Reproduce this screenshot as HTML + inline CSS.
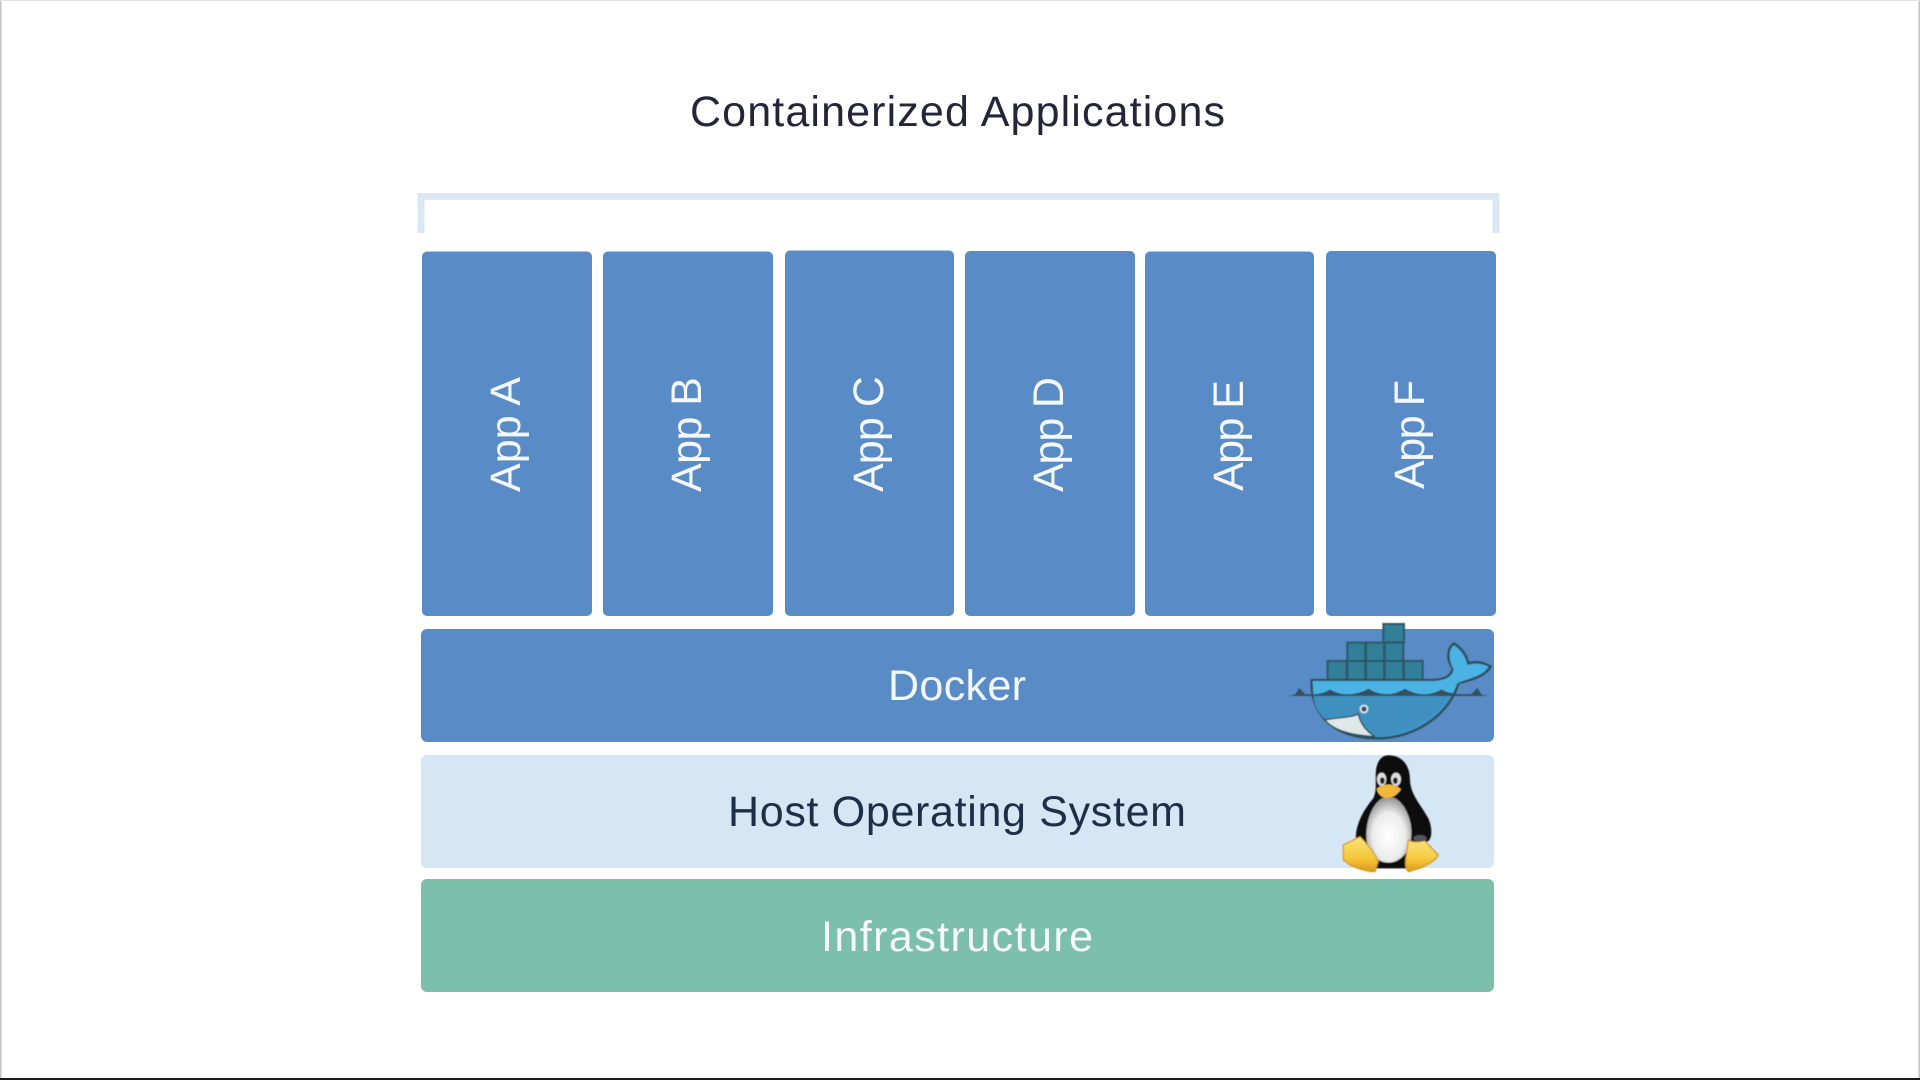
<!DOCTYPE html>
<html lang="en">
<head>
<meta charset="utf-8">
<title>Containerized Applications</title>
<style>
html,body{margin:0;padding:0;background:#fff;width:1920px;height:1080px;overflow:hidden}
svg{display:block}
text{font-family:"Liberation Sans",sans-serif;font-size:43px}
.w{fill:#f4f8fb}
</style>
</head>
<body>
<svg width="1920" height="1080" viewBox="0 0 1920 1080" xmlns="http://www.w3.org/2000/svg">
<defs>
<filter id="s3" x="-10%" y="-10%" width="120%" height="120%"><feGaussianBlur stdDeviation="1.6"/></filter>
<linearGradient id="foot" x1="0" y1="0" x2="0" y2="1"><stop offset="0" stop-color="#fbe27a"/><stop offset="0.6" stop-color="#f6c83a"/><stop offset="1" stop-color="#dd9a1c"/></linearGradient>
<radialGradient id="belly" cx="0.5" cy="0.6" r="0.6"><stop offset="0" stop-color="#ffffff"/><stop offset="0.6" stop-color="#ececec"/><stop offset="1" stop-color="#8f8f8f"/></radialGradient>
</defs>
<rect width="1920" height="1080" fill="#fff"/>
<rect x="0" y="0" width="1.5" height="1080" fill="#c4c4c4"/>
<rect x="1918.5" y="0" width="1.5" height="1080" fill="#c4c4c4"/>
<rect x="0" y="0" width="1920" height="1" fill="#e2e2e2"/>
<rect x="0" y="1078" width="1920" height="2" fill="#1c1c1c"/>

<text x="690" y="126" textLength="535" lengthAdjust="spacing" fill="#23263a">Containerized Applications</text>

<path d="M421 233V196.500H1496V233" fill="none" stroke="#dbe8f3" stroke-width="7"/>

<g fill="#598cc7">
<rect x="422" y="251.500" width="170" height="364.500" rx="5"/>
<rect x="603" y="251.500" width="170" height="364.500" rx="5"/>
<rect x="785" y="250.500" width="169" height="365.500" rx="5"/>
<rect x="965" y="251" width="170" height="365" rx="5"/>
<rect x="1145" y="251.500" width="169" height="364.500" rx="5"/>
<rect x="1326" y="251" width="170" height="365" rx="5"/>
<rect x="421" y="629" width="1073" height="113" rx="6"/>
</g>
<rect x="421" y="755" width="1073" height="113" rx="6" fill="#d5e6f5"/>
<rect x="421" y="879" width="1073" height="113" rx="6" fill="#7cbfaa"/>

<text class="w" transform="translate(520,492) rotate(-90)" textLength="115" lengthAdjust="spacing">App A</text>
<text class="w" transform="translate(701,492) rotate(-90)" textLength="115" lengthAdjust="spacing">App B</text>
<text class="w" transform="translate(883,492) rotate(-90)" textLength="116" lengthAdjust="spacing">App C</text>
<text class="w" transform="translate(1063,492) rotate(-90)" textLength="115" lengthAdjust="spacing">App D</text>
<text class="w" transform="translate(1243,491) rotate(-90)" textLength="111" lengthAdjust="spacing">App E</text>
<text class="w" transform="translate(1424,489) rotate(-90)" textLength="109" lengthAdjust="spacing">App F</text>

<text class="w" x="888" y="700" textLength="138" lengthAdjust="spacing">Docker</text>
<text x="728" y="826" textLength="458" lengthAdjust="spacing" fill="#1b2f46">Host Operating System</text>
<text class="w" x="821" y="951" textLength="272" lengthAdjust="spacing">Infrastructure</text>

<!-- Docker whale -->
<g transform="translate(1260,600) scale(0.33333)" filter="url(#s3)">
<g fill="#327f99" stroke="#2f5765" stroke-width="6">
<rect x="370" y="72" width="62" height="55"/>
<rect x="262" y="128" width="54" height="55"/><rect x="318" y="128" width="54" height="55"/><rect x="374" y="128" width="56" height="55"/>
<rect x="203" y="183" width="57" height="57"/><rect x="262" y="183" width="54" height="57"/><rect x="318" y="183" width="54" height="57"/><rect x="374" y="183" width="56" height="57"/><rect x="432" y="183" width="56" height="57"/>
</g>
<path d="M155 240L520 240C560 238 575 225 578 205C560 180 560 145 582 130C605 145 620 165 625 190C650 182 675 190 692 200C670 235 625 240 595 250C570 340 470 415 350 415C230 415 150 350 155 240Z" fill="#3d94c6" stroke="#2f4d58" stroke-width="7" stroke-linejoin="round"/>
<path d="M158 243L520 243C560 241 578 228 581 208C565 180 565 150 582 137C600 150 615 170 622 196C650 188 670 192 685 200C665 230 625 235 592 250C585 268 580 275 575 285L160 285Z" fill="#4cb2e4"/>
<path d="M85 288L105 284L118 264L135 282C160 284 185 284 210 268C240 288 290 288 325 266C360 288 400 288 435 266C470 288 510 288 545 268C570 284 610 284 635 282L652 264L665 284L685 288Z" fill="#34505c"/>
<path d="M160 290H560C530 340 460 395 350 408C250 400 170 370 160 290Z" fill="#4090bf"/>
<path d="M195 360C240 350 270 355 295 342C300 370 320 395 345 410C280 405 225 395 195 360Z" fill="#dfe8e8" stroke="#2f4d58" stroke-width="4"/>
<circle cx="312" cy="327" r="13" fill="#dfeaf0"/><circle cx="312" cy="327" r="8" fill="#3a4c56"/>
</g>

<!-- Tux -->
<g transform="translate(1320,740) scale(0.33333)" filter="url(#s3)">
<path d="M205 46C250 46 270 80 270 120C272 165 300 190 325 235C340 270 335 305 318 305L300 385H130L110 310C100 270 125 215 160 175C172 150 165 120 168 90C172 62 185 46 205 46Z" fill="#111"/>
<path d="M205 170C238 170 262 205 272 250C284 320 250 368 205 368C160 368 132 320 140 265C146 215 172 170 205 170Z" fill="url(#belly)"/>
<ellipse cx="185" cy="118" rx="14" ry="20" fill="#ddd"/><ellipse cx="228" cy="118" rx="15" ry="20" fill="#ddd"/>
<ellipse cx="187" cy="122" rx="7" ry="10" fill="#222"/><ellipse cx="226" cy="122" rx="7" ry="10" fill="#222"/>
<path d="M170 147C185 130 225 128 243 148C230 170 205 178 190 172C180 168 172 158 170 147Z" fill="#f0b73a"/>
<path d="M70 315L120 290C145 315 165 340 175 365L165 395C140 395 110 385 90 375L70 360Z" fill="url(#foot)" stroke="#c98f20" stroke-width="3"/>
<path d="M265 300C285 310 300 305 312 300L355 345C345 365 320 375 300 385L265 395C255 385 255 370 258 350Z" fill="url(#foot)" stroke="#c98f20" stroke-width="3"/>
<ellipse cx="300" cy="295" rx="20" ry="10" fill="#555"/>
</g>
</svg>
</body>
</html>
